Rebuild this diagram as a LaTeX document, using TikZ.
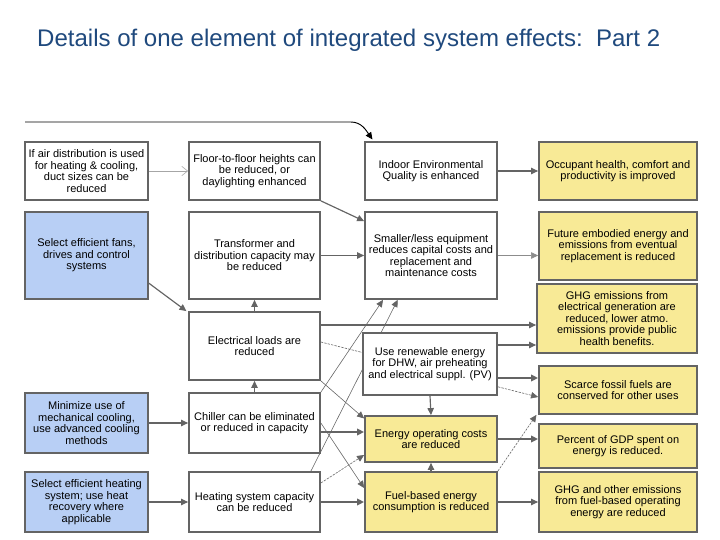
\documentclass[tikz,border=0pt]{standalone}
\usepackage{fontspec}
\setmainfont{Liberation Sans}
\usetikzlibrary{arrows.meta}
\definecolor{boxline}{RGB}{100,100,100}
\definecolor{effectfill}{RGB}{248,234,150}
\definecolor{measurefill}{RGB}{184,207,245}
\definecolor{titleblue}{RGB}{31,73,125}

\begin{document}
\begin{tikzpicture}[
  x=0.03cm, y=-0.03cm,
  stage/.style={draw=boxline,line width=1.5pt,fill=white,align=center,inner sep=1pt,
    font=\fontsize{9.4}{9.8}\selectfont},
  measure/.style={stage,fill=measurefill},
  effect/.style={stage,fill=effectfill},
  flow/.style={-{Triangle[length=6pt,width=5.5pt]},draw=boxline,line width=1pt},
  strong/.style={flow,line width=1.6pt},
  faint/.style={flow,line width=0.5pt},
  hint/.style={flow,line width=0.5pt,dashed,dash pattern=on 2pt off 1pt}
]
  \useasboundingbox (0,0) rectangle (720,540);

  \node[anchor=base west,text=titleblue,inner sep=0pt,font=\fontsize{20.5}{24}\selectfont]
    (title) at (37,47) {Details of one element of integrated system effects:\ \ Part 2};

  % measures
  \node[stage,minimum width=3.69cm,minimum height=1.74cm] (a1) at (86.5,171)
    {If air distribution is used\\for heating \& cooling,\\duct sizes can be\\reduced};
  \node[measure,minimum width=3.69cm,minimum height=2.61cm] (a2) at (86.5,255.5)
    {Select efficient fans,\\drives and control\\systems};
  \node[measure,minimum width=3.69cm,minimum height=1.8cm] (a3) at (86.5,423)
    {Minimize use of\\mechanical cooling,\\use advanced cooling\\methods};
  \node[measure,minimum width=3.69cm,minimum height=1.8cm] (a4) at (86.5,502)
    {Select efficient heating\\system; use heat\\recovery where\\applicable};

  % direct results
  \node[stage,minimum width=3.93cm,minimum height=1.74cm] (b1) at (254.5,171)
    {Floor-to-floor heights can\\be reduced, or\\daylighting enhanced};
  \node[stage,minimum width=3.93cm,minimum height=2.61cm] (b2) at (254.5,255.5)
    {Transformer and\\distribution capacity may\\be reduced};
  \node[stage,minimum width=3.93cm,minimum height=2.04cm] (b3) at (254.5,346)
    {Electrical loads are\\reduced};
  \node[stage,minimum width=3.93cm,minimum height=1.8cm] (b4) at (254.5,423)
    {Chiller can be eliminated\\or reduced in capacity};
  \node[stage,minimum width=3.93cm,minimum height=1.8cm] (b5) at (254.5,502)
    {Heating system capacity\\can be reduced};

  % building level
  \node[stage,minimum width=3.96cm,minimum height=1.74cm] (c1) at (431,171)
    {Indoor Environmental\\Quality is enhanced};
  \node[stage,minimum width=3.96cm,minimum height=2.61cm] (c2) at (431,255.5)
    {Smaller/less equipment\\reduces capital costs and\\replacement and\\maintenance costs};
  \node[effect,minimum width=3.96cm,minimum height=1.38cm] (c4) at (431,439)
    {Energy operating costs\\are reduced};
  \node[effect,minimum width=3.96cm,minimum height=1.8cm] (c5) at (431,502)
    {Fuel-based energy\\consumption is reduced};

  % wider effects
  \node[effect,minimum width=4.74cm,minimum height=1.74cm] (d1) at (618,171)
    {Occupant health, comfort and\\productivity is improved};
  \node[effect,minimum width=4.74cm,minimum height=2.04cm] (d2) at (618,246)
    {Future embodied energy and\\emissions from eventual\\replacement is reduced};
  \node[effect,minimum width=4.8cm,minimum height=2.07cm] (d3) at (617,318.5)
    {GHG emissions from\\electrical generation are\\reduced, lower atmo.\\emissions provide public\\health benefits.};
  \node[effect,minimum width=4.74cm,minimum height=1.44cm] (d4) at (618,390)
    {Scarce fossil fuels are\\conserved for other uses};
  \node[effect,minimum width=4.74cm,minimum height=1.32cm] (d5) at (618,446)
    {Percent of GDP spent on\\energy is reduced.};
  \node[effect,minimum width=4.74cm,minimum height=1.8cm] (d6) at (618,502)
    {GHG and other emissions\\from fuel-based operating\\energy are reduced};

  % lines that run behind the renewables box
  \draw[hint] (b3.east |- 0,342) -- (d4.west |- 0,397);
  \draw[faint] (b4.north east) -- ([xshift=-1.44cm]c2.south);
  \draw[faint] ([xshift=-0.3cm]b5.north east) -- ([xshift=-1cm]c2.south);

  \node[stage,minimum width=4.02cm,minimum height=1.86cm] (c3) at (430,364)
    {Use renewable energy\\for DHW, air preheating\\and electrical suppl. (PV)};

  \coordinate (feed) at (25,122);
  \draw[flow,draw=black,line width=0.8pt] (feed) -- ([xshift=-0.4cm]feed -| c1.north west)
    to[out=0,in=125] ([xshift=0.25cm,yshift=0.05cm]c1.north west);

  \draw[faint,draw=black!35,-{Straight Barb[length=5pt,width=8pt]}] (a1.east) -- (b1.west);
  \draw[flow] (c1.east) -- (d1.west);
  \draw[flow] (b1.south east) -- ([yshift=-0.3cm]c2.north west);
  \draw[flow] (b2.east) -- (c2.west);
  \draw[faint,draw=black!45] (c2.east) -- (c2.east -| d2.west);
  \draw[flow] ([yshift=0.5cm]a2.south east) -- ([xshift=-0.05cm]b3.north west);
  \draw[flow] (b3.north) -- (b2.south);
  \draw[flow] (b4.north) -- (b3.south);
  \draw[flow] (b3.east |- 0,325) -- (d3.west |- 0,325);
  \draw[faint] (b3.south east) -- ([yshift=-0.1cm]c4.north west);
  \draw[flow] (c3.east |- 0,345) -- (d3.west |- 0,345);
  \draw[strong] (c3.east |- 0,378) -- (d4.west |- 0,378);
  \draw[flow] (c3.south) -- (c4.north);
  \draw[flow] (a3.east) -- (b4.west);
  \draw[strong] (b4.east |- 0,432) -- (c4.west |- 0,432);
  \draw[faint] (b4.east) -- (c5.west |- 0,488);
  \draw[hint] (b5.east |- 0,483) -- (c4.west |- 0,455);
  \draw[flow] (a4.east) -- (b5.west);
  \draw[strong] (b5.east) -- (c5.west);
  \draw[flow] (c5.north) -- (c4.south);
  \draw[strong] (c4.east) -- (c4.east -| d5.west);
  \draw[flow] (c5.east) -- (d6.west);
  \draw[hint] (c5.north east) -- ([xshift=-0.05cm]d4.south west);
\end{tikzpicture}
\end{document}
